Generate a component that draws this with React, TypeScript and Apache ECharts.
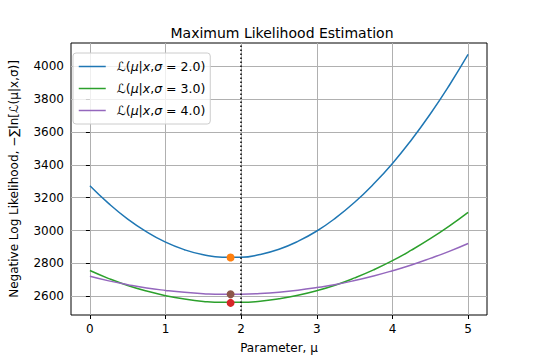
import React, { useEffect, useRef } from "react";
import * as echarts from "echarts";

const muValues = [0, 0.25, 0.5, 0.75, 1, 1.25, 1.5, 1.75, 2, 2.25, 2.5, 2.75, 3, 3.25, 3.5, 3.75, 4, 4.25, 4.5, 4.75, 5];
const nllSigma2 = [3273, 3164, 3070, 2992, 2929, 2883, 2852, 2837, 2837, 2854, 2886, 2934, 2997, 3077, 3172, 3283, 3409, 3552, 3710, 3884, 4073];
const nllSigma3 = [2756, 2707, 2665, 2631, 2603, 2582, 2568, 2562, 2562, 2569, 2584, 2605, 2633, 2668, 2711, 2760, 2816, 2880, 2950, 3027, 3111];
const nllSigma4 = [2721, 2693, 2670, 2650, 2635, 2623, 2615, 2611, 2612, 2616, 2624, 2636, 2652, 2671, 2695, 2723, 2755, 2790, 2830, 2873, 2921];
const sigmaLabels = ["2.0", "3.0", "4.0"];
const mleMu = 1.86;
const mlePoints = [2835, 2611, 2559];
const trueMu = 2;
const xTicks = [0, 1, 2, 3, 4, 5];
const yTicks = [2600, 2800, 3000, 3200, 3400, 3600, 3800, 4000];

const lineColors = ["#1f77b4", "#2ca02c", "#9467bd"];
const dotColors = ["#ff7f0e", "#8c564b", "#d62728"];
const FONT = "DejaVu Sans";

export default function App() {
  const ref = useRef<HTMLDivElement>(null);
  useEffect(() => {
    if (!ref.current) return;
    const chart = echarts.init(ref.current, null, { renderer: "svg" });
    const curves = [nllSigma2, nllSigma3, nllSigma4];
    const names = sigmaLabels.map((s) => `ℒ(μ|x,σ=${s})`);
    const lineSeries: any[] = curves.map((vals, i) => ({
      type: "line",
      name: names[i],
      data: muValues.map((m, j) => [m, vals[j]]),
      smooth: true,
      symbol: "none",
      lineStyle: { color: lineColors[i], width: 1.5 },
      itemStyle: { color: lineColors[i] },
      z: 3,
      ...(i === 0
        ? {
            markLine: {
              silent: true,
              symbol: "none",
              label: { show: false },
              lineStyle: { color: "#000", width: 1.5, type: [1.5, 2.5] },
              data: [{ xAxis: trueMu }],
            },
          }
        : {}),
    }));
    const dotSeries = mlePoints.map((v, i) => ({
      type: "scatter",
      name: "mle" + i,
      data: [[mleMu, v]],
      symbolSize: 8,
      itemStyle: { color: dotColors[i], opacity: 1 },
      z: 5 + i,
    }));
    const sigmaOf: Record<string, string> = {};
    names.forEach((n, i) => (sigmaOf[n] = sigmaLabels[i]));
    chart.setOption({
      animation: false,
      textStyle: { fontFamily: FONT },
      title: {
        text: "Maximum Likelihood Estimation",
        left: 277,
        top: 21,
        textAlign: "center",
        textStyle: { fontFamily: FONT, fontSize: 14, fontWeight: "normal", color: "#000" },
      },
      grid: {
        left: 67,
        right: 53,
        top: 43,
        bottom: 45,
        show: true,
        borderColor: "#000",
        borderWidth: 1,
        backgroundColor: "transparent",
      },
      legend: {
        data: names,
        orient: "vertical",
        left: 73,
        top: 53,
        padding: [7, 5, 7, 5],
        itemWidth: 27,
        itemHeight: 12,
        itemGap: 9,
        itemStyle: { opacity: 0 },
        lineStyle: { width: 1.5 },
        backgroundColor: "rgba(255,255,255,0.8)",
        borderColor: "#cccccc",
        borderWidth: 1,
        borderRadius: 3,
        formatter: (n: string) =>
          `{r|ℒ(}{i|μ}{r||}{i|x}{r|,}{i|σ}{r| = ${sigmaOf[n]})}`,
        textStyle: {
          padding: [0, 0, 0, 6],
          rich: {
            r: { fontFamily: FONT, fontSize: 12.5, lineHeight: 12, color: "#000" },
            i: { fontFamily: FONT, fontSize: 12.5, lineHeight: 12, fontStyle: "italic", color: "#000" },
          },
        },
      },
      xAxis: {
        type: "value",
        min: -0.25,
        max: 5.25,
        interval: 1,
        name: "Parameter, μ",
        nameLocation: "middle",
        nameGap: 27,
        nameTextStyle: { fontFamily: FONT, fontSize: 12, color: "#000" },
        axisLine: { show: false },
        axisTick: { show: true, length: 4, lineStyle: { color: "#000" }, customValues: xTicks },
        axisLabel: {
          customValues: xTicks,
          formatter: (v: number) => String(v),
          fontFamily: FONT,
          fontSize: 12,
          color: "#000",
          margin: 8,
        },
        splitLine: { show: true, lineStyle: { color: "#b0b0b0", width: 1 } },
      },
      yAxis: {
        type: "value",
        min: 2485,
        max: 4143,
        interval: 200,
        name: "Negative Log Likelihood, −∑ln[ℒ(μ|x,σ)]",
        nameLocation: "middle",
        nameGap: 51,
        nameTextStyle: { fontFamily: FONT, fontSize: 12, color: "#000" },
        axisLine: { show: false },
        axisTick: { show: true, length: 4, lineStyle: { color: "#000" }, customValues: yTicks },
        axisLabel: {
          customValues: yTicks,
          formatter: (v: number) => String(v),
          fontFamily: FONT,
          fontSize: 12,
          color: "#000",
          margin: 7,
        },
        splitLine: { show: true, lineStyle: { color: "#b0b0b0", width: 1 } },
      },
      series: [...lineSeries, ...dotSeries],
    });
    return () => chart.dispose();
  }, []);
  return <div ref={ref} style={{ width: 540, height: 360, position: "absolute", left: 0, top: 0 }} />;
}
